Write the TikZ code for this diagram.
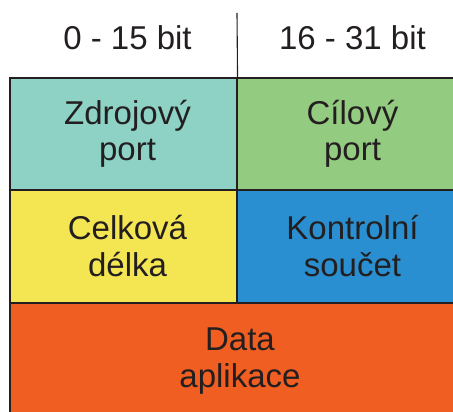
\documentclass[tikz,border=0pt]{standalone}
\usepackage{fontspec}
\setmainfont{Liberation Sans}
\definecolor{ink}{HTML}{231F20}
\definecolor{cteal}{HTML}{8DD2C5}
\definecolor{cgreen}{HTML}{93CB80}
\definecolor{cyellow}{HTML}{F4E553}
\definecolor{cblue}{HTML}{2A8FD0}
\definecolor{corange}{HTML}{F15E22}
\begin{document}
\begin{tikzpicture}[x=1pt,y=-1pt,
  cell/.style={draw=ink,line width=1.1pt,rectangle,inner sep=0pt},
  txt/.style={text=ink,font=\fontsize{33}{36.5}\selectfont,inner sep=0pt,align=center},
  head/.style={text=ink,font=\fontsize{33}{36}\selectfont,inner sep=0pt,anchor=base}]
\useasboundingbox (0,0) rectangle (453,412);
\clip (0,0) rectangle (453,412);
\node[cell,fill=cteal,minimum width=227pt,minimum height=112pt] (src) at (123.5,134) {};
\node[cell,fill=cgreen,minimum width=230pt,minimum height=112pt] (dst) at (352,134) {};
\node[cell,fill=cyellow,minimum width=227pt,minimum height=113pt] (len) at (123.5,246.5) {};
\node[cell,fill=cblue,minimum width=230pt,minimum height=113pt] (sum) at (352,246.5) {};
\node[cell,fill=corange,minimum width=457pt,minimum height=120pt] (data) at (238.5,363) {};
\node[txt] (srct) at (127.5,134) {Zdrojový\\port};
\node[txt] (dstt) at (352.5,134) {Cílový\\port};
\node[txt] (lent) at (127.5,246) {Celková\\délka};
\node[txt] (sumt) at (352.5,246) {Kontrolní\\součet};
\node[txt] (datat) at (240,361) {Data\\aplikace};
\node[head] (h1) at (127.5,50) {0 - 15 bit};
\node[head] (h2) at (352.5,50) {16 - 31 bit};
\coordinate (divtop) at (237,13);
\draw[ink,line width=1.1pt] (divtop) -- (src.north east);
\end{tikzpicture}
\end{document}
